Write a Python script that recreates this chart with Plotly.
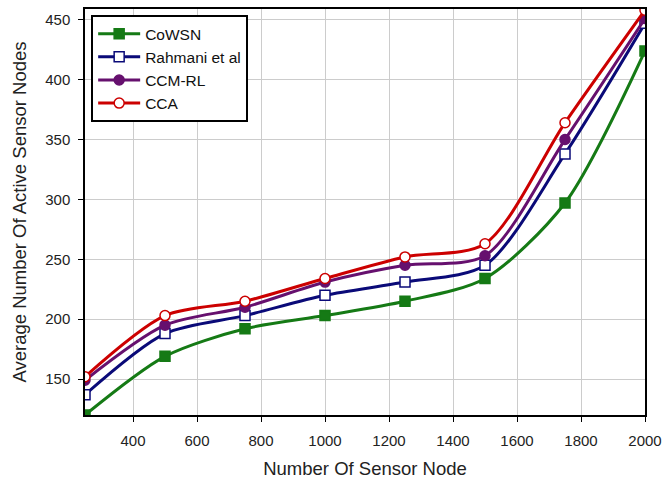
import plotly.graph_objects as go

x_nodes = [250, 500, 750, 1000, 1250, 1500, 1750, 2000]
cowsn = [120, 169, 192, 203, 215, 234, 297, 424]
rahmani = [137, 188, 203, 220, 231, 245, 338, 447]
ccm_rl = [149, 195, 210, 231, 245, 253, 350, 451]
cca = [152, 203, 215, 234, 252, 263, 364, 458]

x_ticks = [400, 600, 800, 1000, 1200, 1400, 1600, 1800, 2000]
y_ticks = [150, 200, 250, 300, 350, 400, 450]

series = [
    ("CoWSN", cowsn, "#157a15", "square", "#157a15"),
    ("Rahmani et al", rahmani, "#0a0a78", "square", "white"),
    ("CCM-RL", ccm_rl, "#66106e", "circle", "#66106e"),
    ("CCA", cca, "#cc0000", "circle", "white"),
]

fig = go.Figure()
for name, ys, col, sym, fill in series:
    fig.add_trace(go.Scatter(
        x=x_nodes, y=ys, name=name, mode="lines+markers",
        line=dict(color=col, width=3, shape="spline", smoothing=0.8),
        marker=dict(symbol=sym, size=10, color=fill, line=dict(color=col, width=1.5)),
    ))

fig.update_layout(
    width=663, height=483,
    margin=dict(l=85, r=18, t=9, b=68, autoexpand=False),
    paper_bgcolor="white", plot_bgcolor="white",
    font=dict(family="Liberation Sans, Arial, sans-serif", color="#222222", size=15),
    showlegend=True,
    legend=dict(x=0.011, y=0.985, xanchor="left", yanchor="top",
                bgcolor="white", bordercolor="black", borderwidth=2,
                font=dict(size=15.5, color="#111111"), tracegroupgap=0,
                itemwidth=42),
)
fig.update_xaxes(
    range=[250, 2000], tickvals=x_ticks, showgrid=True, gridcolor="#cccccc", gridwidth=1,
    showline=True, linecolor="black", linewidth=1.5, mirror=True,
    ticks="outside", ticklen=5, tickcolor="black", zeroline=False,
    ticklabelstandoff=6,
    title=dict(text="Number Of Sensor Node", font=dict(size=18.5, color="#222222"), standoff=14),
)
fig.update_yaxes(
    range=[120, 459], tickvals=y_ticks, showgrid=True, gridcolor="#cccccc", gridwidth=1,
    showline=True, linecolor="black", linewidth=1.5, mirror=True,
    ticks="outside", ticklen=5, tickcolor="black", zeroline=False,
    ticklabelstandoff=5,
    title=dict(text="Average Number Of Active Sensor Nodes", font=dict(size=18.5, color="#222222"), standoff=14),
)
fig.write_html("out.html", post_script="document.body.style.margin='0';",
               config={"displayModeBar": False})
